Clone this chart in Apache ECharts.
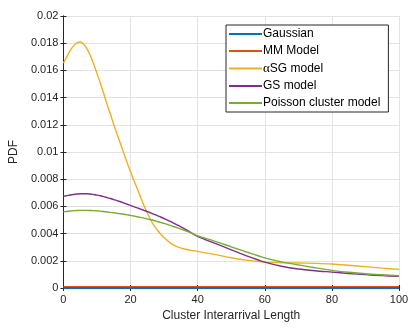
<!DOCTYPE html>
<html>
  <head>
    <meta charset="UTF-8" />
    <title>Cluster Interarrival PDF</title>
    <script src="https://cdn.jsdelivr.net/npm/echarts@6.0.0/dist/echarts.min.js"></script>
  </head>
  <body style="margin:0">
    <div id="pdfChart" style="width: 415px; height: 329px"></div>
  </body>
  <script>
    const xs = [0, 1, 2, 3, 4, 5, 6, 7, 8, 9, 10, 11, 12, 13, 14, 15, 16, 17, 18, 19, 20, 21, 22, 23, 24, 25, 26, 27, 28, 29, 30,
      32, 34, 36, 38, 40, 45, 50, 55, 60, 65, 70, 75, 80, 85, 90, 95, 100];
    const asgModel = [0.01654, 0.0170, 0.01745, 0.0178, 0.01803, 0.01809, 0.01795, 0.0176, 0.0171, 0.01648, 0.01578, 0.01505, 0.0143, 0.0135, 0.0128, 0.0120,
      0.0113, 0.0106, 0.0099, 0.0092, 0.00855, 0.0079, 0.0073, 0.00668, 0.00607, 0.00552, 0.00502, 0.00458, 0.00425, 0.00396, 0.0037,
      0.00328, 0.00302, 0.00287, 0.00277, 0.00269, 0.00247, 0.00222, 0.00203, 0.0019, 0.00186, 0.00184, 0.00181, 0.00176, 0.00167, 0.00157, 0.00146, 0.00137];
    const gsModel = [0.00674, 0.00679, 0.00684, 0.00688, 0.00691, 0.00693, 0.00693, 0.00693, 0.00691, 0.00687, 0.00683, 0.00678, 0.00672, 0.00665, 0.00658, 0.0065,
      0.00642, 0.00634, 0.00625, 0.00616, 0.00607, 0.00598, 0.00589, 0.0058, 0.00571, 0.00562, 0.00552, 0.00542, 0.00532, 0.00522, 0.00511,
      0.00488, 0.00463, 0.00437, 0.00408, 0.0038, 0.0033, 0.00281, 0.00232, 0.0019, 0.0016, 0.0014, 0.00127, 0.00117, 0.00107, 0.00098, 0.00091, 0.00086];
    const poissonModel = [0.0056, 0.00563, 0.00566, 0.00568, 0.0057, 0.00571, 0.00571, 0.00571, 0.0057, 0.00569, 0.00567, 0.00565, 0.00562, 0.00559, 0.00556, 0.00553,
      0.0055, 0.00546, 0.00542, 0.00538, 0.00534, 0.00529, 0.00524, 0.00519, 0.00514, 0.00508, 0.00502, 0.00496, 0.00489, 0.00482, 0.00475,
      0.00459, 0.00442, 0.00424, 0.00405, 0.00383, 0.00345, 0.00303, 0.00261, 0.00222, 0.00192, 0.0017, 0.00149, 0.0013, 0.00116, 0.00105, 0.00097, 0.0009];
    // the two flat models sit on the x axis
    const flatXs = [0, 100];
    const gaussian = [0, 0];
    const mmModel = [0.0001, 0.0001];
    const seriesNames = ['Gaussian', 'MM Model', 'αSG model', 'GS model', 'Poisson cluster model'];
    const seriesColors = ['#0072BD', '#D95319', '#EDB120', '#7E2F8E', '#77AC30'];
    const xTicks = [0, 20, 40, 60, 80, 100];

    let myChart = echarts.init(document.getElementById('pdfChart'));

    const font = 'Liberation Sans, Arial, sans-serif';
    const axisColor = '#262626';
    const allData = [[flatXs, gaussian], [flatXs, mmModel], [xs, asgModel], [xs, gsModel], [xs, poissonModel]];

    let series = allData.map(([px, vals], i) => ({
      name: seriesNames[i],
      type: 'line',
      smooth: 0.3,
      symbol: 'none',
      z: i == 0 ? 10 : 5,
      lineStyle: { color: seriesColors[i], width: i == 0 ? 2 : 1.4 },
      itemStyle: { color: seriesColors[i] },
      data: px.map((x, k) => [x, vals[k]])
    }));

    // top and right copies of the axes only draw the box and its inward ticks
    const boxX = {
      type: 'value', min: 0, max: 100, interval: 20, position: 'top',
      axisLine: { show: true, lineStyle: { color: axisColor, width: 1 } },
      axisTick: { show: true, inside: true, length: 3, lineStyle: { color: axisColor } },
      axisLabel: { show: false }, splitLine: { show: false }
    };
    const boxY = {
      type: 'value', min: 0, max: 0.02, interval: 0.002, position: 'right',
      axisLine: { show: true, lineStyle: { color: axisColor, width: 1 } },
      axisTick: { show: true, inside: true, length: 3, lineStyle: { color: axisColor } },
      axisLabel: { show: false }, splitLine: { show: false }
    };

    myChart.setOption({
      animation: false,
      backgroundColor: '#fff',
      grid: { left: 53, right: 16, top: 16, bottom: 41 },
      legend: {
        data: seriesNames,
        orient: 'vertical',
        left: 226,
        top: 25,
        backgroundColor: '#fff',
        borderColor: axisColor,
        borderWidth: 1,
        padding: [3, 8, 3, 3],
        itemGap: 5,
        itemWidth: 33,
        itemHeight: 2,
        icon: 'rect',
        formatter: name => name == 'αSG model' ? '{a|α}SG model' : name,
        textStyle: {
          fontFamily: font, fontSize: 12, color: '#000', padding: [0, 0, 0, -4],
          rich: { a: { fontFamily: 'Liberation Serif, serif', fontSize: 13, color: '#000' } }
        }
      },
      xAxis: [{
        type: 'value', min: 0, max: 100, interval: 20,
        name: 'Cluster Interarrival Length',
        nameLocation: 'middle', nameGap: 20,
        nameTextStyle: { fontFamily: font, fontSize: 12, color: '#262626' },
        axisLine: { show: true, lineStyle: { color: axisColor, width: 1 } },
        axisTick: { show: true, inside: true, length: 3, lineStyle: { color: axisColor } },
        axisLabel: { fontFamily: font, fontSize: 11, color: '#262626', margin: 6,
          formatter: v => xTicks.includes(v) ? String(v) : '' },
        splitLine: { show: true, lineStyle: { color: '#e3e3e3', width: 1 } }
      }, boxX],
      yAxis: [{
        type: 'value', min: 0, max: 0.02, interval: 0.002,
        name: 'PDF',
        nameLocation: 'middle', nameGap: 36,
        nameTextStyle: { fontFamily: font, fontSize: 12, color: '#262626' },
        axisLine: { show: true, lineStyle: { color: axisColor, width: 1 } },
        axisTick: { show: true, inside: true, length: 3, lineStyle: { color: axisColor } },
        axisLabel: { fontFamily: font, fontSize: 11, color: '#262626', margin: 5,
          formatter: v => String(parseFloat(v.toFixed(3))) },
        splitLine: { show: true, lineStyle: { color: '#e3e3e3', width: 1 } }
      }, boxY],
      series: series
    });
  </script>
</html>
